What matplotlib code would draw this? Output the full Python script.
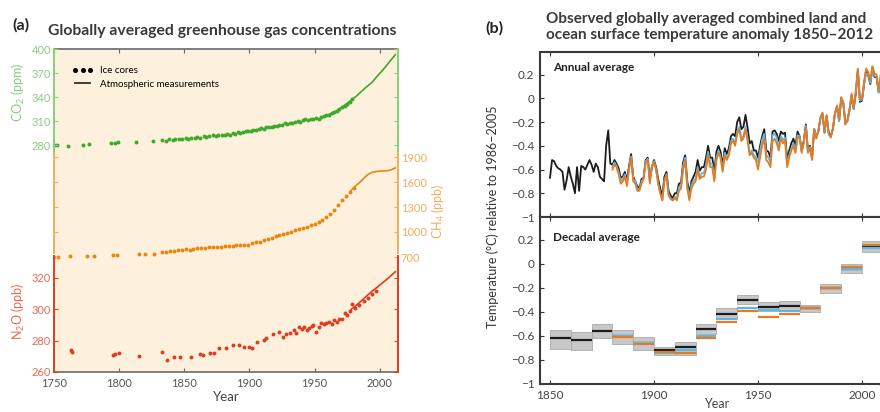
import matplotlib.pyplot as plt
import matplotlib.ticker as mticker
from matplotlib.lines import Line2D

plt.rcParams['font.family'] = ['Lato', 'DejaVu Sans']
plt.rcParams['mathtext.fontset'] = 'custom'
plt.rcParams['mathtext.rm'] = 'Lato'
plt.rcParams['mathtext.it'] = 'Lato:italic'
plt.rcParams['mathtext.bf'] = 'Lato:bold'

# ---------------- panel (a) data ----------------
co2_ice_year = [1750, 1752, 1761, 1772, 1777, 1794, 1797, 1799, 1813, 1826,
                1833, 1836, 1838, 1841, 1843, 1846, 1848, 1851, 1853, 1855,
                1858, 1860, 1862, 1865, 1867, 1869, 1872, 1874, 1876, 1879,
                1881, 1883, 1885, 1887, 1889, 1891, 1893, 1895, 1897, 1899,
                1901, 1903, 1905, 1907, 1909, 1911, 1913, 1915, 1917, 1919,
                1921, 1923, 1925, 1927, 1929, 1931, 1933, 1935, 1937, 1939,
                1941, 1943, 1945, 1947, 1949, 1951, 1953, 1955, 1957, 1959,
                1961, 1963, 1965, 1967, 1969, 1971, 1973, 1975, 1977, 1979]
co2_ice_ppm = [280, 280, 279, 280, 281, 283, 283, 284, 284, 285,
               286, 285, 287, 286, 287, 288, 287, 289, 288, 289,
               289, 290, 289, 291, 290, 291, 292, 291, 292, 293,
               293, 294, 293, 295, 294, 296, 295, 296, 297, 298,
               298, 299, 299, 300, 301, 300, 302, 302, 303, 304,
               304, 305, 305, 307, 306, 308, 307, 309, 310, 309,
               311, 312, 311, 313, 312, 314, 313, 315, 316, 317,
               318, 320, 321, 323, 325, 327, 329, 331, 334, 337]
co2_atm_year = [1958, 1962, 1966, 1970, 1974, 1978, 1982, 1986, 1990, 1994,
                1998, 2002, 2006, 2010, 2012]
co2_atm_ppm = [316, 319, 322, 326, 331, 336, 341, 347, 353, 358,
               366, 373, 381, 389, 393]

ch4_ice_year = [1750, 1753, 1762, 1775, 1781, 1795, 1798, 1815, 1820, 1827,
                1833, 1836, 1839, 1842, 1845, 1848, 1851, 1854, 1857, 1860,
                1863, 1866, 1869, 1872, 1875, 1878, 1881, 1884, 1887, 1890,
                1893, 1896, 1899, 1902, 1905, 1908, 1911, 1914, 1917, 1920,
                1923, 1926, 1929, 1932, 1935, 1938, 1941, 1944, 1947, 1950,
                1953, 1956, 1959, 1962, 1965, 1968, 1971, 1974, 1977, 1980]
ch4_ice_ppb = [700, 705, 710, 715, 712, 725, 722, 735, 738, 740,
               760, 765, 770, 775, 780, 790, 795, 790, 800, 805,
               810, 808, 815, 820, 825, 820, 830, 835, 832, 840,
               845, 850, 848, 870, 880, 875, 900, 915, 930, 950,
               960, 975, 990, 1005, 1020, 1035, 1050, 1065, 1080, 1095,
               1120, 1150, 1180, 1220, 1260, 1320, 1380, 1430, 1480, 1530]
ch4_atm_year = [1978, 1982, 1985, 1988, 1991, 1994, 1997, 2000, 2003, 2006, 2009, 2012]
ch4_atm_ppb = [1500, 1560, 1600, 1650, 1690, 1715, 1725, 1730, 1733, 1735, 1748, 1770]

n2o_ice_year = [1763, 1764, 1795, 1797, 1800, 1815, 1833, 1837, 1842, 1847,
                1855, 1862, 1864, 1870, 1873, 1877, 1882, 1887, 1892, 1896,
                1900, 1902, 1906, 1911, 1913, 1918, 1923, 1926, 1928, 1931,
                1934, 1936, 1938, 1940, 1942, 1944, 1946, 1948, 1949, 1951,
                1953, 1955, 1957, 1959, 1961, 1963, 1965, 1967, 1969, 1971,
                1973, 1975, 1977, 1979, 1981, 1984, 1988, 1991, 1994, 1997]
n2o_ice_ppb = [274, 273, 271, 271.5, 272, 270.5, 272.5, 267.5, 269.5, 269.5,
               269.5, 271.5, 271, 272, 272, 275, 275, 277, 277, 276,
               276, 275.5, 279, 280.5, 281.5, 284.5, 285.5, 282.5, 284, 285,
               287, 285, 288.5, 287.5, 289, 286.5, 288, 289.5, 290, 285.5,
               289, 291, 290.5, 291.5, 292, 290.5, 293, 292, 293.5, 294,
               297.5, 296.5, 299, 303.5, 301, 302.5, 305, 307.5, 310, 311.5]
n2o_atm_year = [1978, 1982, 1986, 1990, 1994, 1998, 2002, 2006, 2010, 2012]
n2o_atm_ppb = [300, 302.5, 305.5, 308.5, 311.5, 314, 316.8, 319.5, 322.5, 324]

# ---------------- panel (b) data ----------------
black_start = 1850
black_annual = [
    -0.67, -0.52, -0.53, -0.57, -0.59, -0.60, -0.62, -0.77, -0.69, -0.58,
    -0.66, -0.72, -0.80, -0.58, -0.78, -0.57, -0.58, -0.60, -0.56, -0.52,
    -0.56, -0.62, -0.55, -0.58, -0.66, -0.68, -0.70, -0.40, -0.27, -0.55,
    -0.56, -0.52, -0.55, -0.59, -0.67, -0.66, -0.62, -0.69, -0.57, -0.47,
    -0.66, -0.70, -0.74, -0.76, -0.68, -0.67, -0.52, -0.50, -0.68, -0.58,
    -0.52, -0.58, -0.68, -0.76, -0.82, -0.66, -0.62, -0.78, -0.82, -0.84,
    -0.80, -0.80, -0.72, -0.71, -0.54, -0.48, -0.70, -0.80, -0.70, -0.66,
    -0.62, -0.52, -0.61, -0.58, -0.58, -0.50, -0.40, -0.50, -0.50, -0.62,
    -0.45, -0.40, -0.45, -0.57, -0.42, -0.47, -0.42, -0.32, -0.30, -0.32,
    -0.20, -0.16, -0.26, -0.24, -0.14, -0.25, -0.38, -0.36, -0.44, -0.44,
    -0.50, -0.40, -0.32, -0.26, -0.44, -0.45, -0.50, -0.28, -0.27, -0.30,
    -0.36, -0.28, -0.30, -0.29, -0.52, -0.44, -0.38, -0.34, -0.40, -0.28,
    -0.32, -0.44, -0.36, -0.22, -0.44, -0.40, -0.50, -0.26, -0.32, -0.28,
    -0.17, -0.13, -0.29, -0.15, -0.29, -0.32, -0.26, -0.13, -0.07, -0.19,
    0.00, -0.04, -0.21, -0.19, -0.10, 0.02, -0.09, 0.04, 0.24, -0.03,
    -0.02, 0.12, 0.24, 0.19, 0.12, 0.26, 0.18, 0.18, 0.05, 0.17,
    0.24, 0.10, 0.15]

other_start = 1880
orange_annual = [
    -0.60, -0.56, -0.58, -0.64, -0.72, -0.70, -0.66, -0.74, -0.60, -0.50,
    -0.70, -0.72, -0.78, -0.78, -0.72, -0.68, -0.54, -0.52, -0.72, -0.58,
    -0.54, -0.60, -0.72, -0.80, -0.86, -0.70, -0.64, -0.82, -0.84, -0.86,
    -0.84, -0.86, -0.78, -0.76, -0.60, -0.52, -0.76, -0.86, -0.76, -0.72,
    -0.70, -0.60, -0.68, -0.66, -0.66, -0.60, -0.48, -0.58, -0.58, -0.70,
    -0.52, -0.46, -0.50, -0.62, -0.48, -0.52, -0.48, -0.38, -0.36, -0.40,
    -0.30, -0.26, -0.36, -0.34, -0.26, -0.36, -0.48, -0.46, -0.50, -0.52,
    -0.60, -0.50, -0.40, -0.34, -0.52, -0.54, -0.58, -0.36, -0.34, -0.38,
    -0.44, -0.34, -0.38, -0.35, -0.58, -0.50, -0.44, -0.40, -0.46, -0.34,
    -0.32, -0.46, -0.38, -0.24, -0.46, -0.42, -0.52, -0.26, -0.34, -0.28,
    -0.16, -0.12, -0.28, -0.14, -0.30, -0.33, -0.25, -0.12, -0.06, -0.18,
    0.01, -0.03, -0.22, -0.18, -0.09, 0.04, -0.08, 0.06, 0.25, -0.01,
    0.00, 0.14, 0.25, 0.22, 0.15, 0.27, 0.21, 0.20, 0.07, 0.20,
    0.27, 0.12, 0.16]
blue_annual = [
    -0.58, -0.54, -0.57, -0.62, -0.70, -0.68, -0.64, -0.72, -0.59, -0.49,
    -0.68, -0.70, -0.76, -0.77, -0.70, -0.67, -0.53, -0.51, -0.70, -0.57,
    -0.53, -0.60, -0.71, -0.80, -0.86, -0.69, -0.64, -0.81, -0.85, -0.86,
    -0.83, -0.84, -0.75, -0.74, -0.57, -0.50, -0.73, -0.84, -0.73, -0.69,
    -0.68, -0.58, -0.66, -0.63, -0.63, -0.56, -0.45, -0.55, -0.55, -0.68,
    -0.50, -0.44, -0.49, -0.60, -0.46, -0.51, -0.46, -0.36, -0.34, -0.38,
    -0.28, -0.24, -0.34, -0.32, -0.24, -0.34, -0.46, -0.44, -0.48, -0.50,
    -0.54, -0.44, -0.35, -0.30, -0.48, -0.50, -0.54, -0.31, -0.30, -0.33,
    -0.42, -0.32, -0.35, -0.33, -0.56, -0.48, -0.42, -0.38, -0.44, -0.31,
    -0.32, -0.45, -0.37, -0.23, -0.45, -0.41, -0.51, -0.26, -0.33, -0.27,
    -0.17, -0.13, -0.29, -0.15, -0.30, -0.33, -0.26, -0.13, -0.07, -0.19,
    0.00, -0.04, -0.22, -0.19, -0.10, 0.03, -0.09, 0.05, 0.22, -0.02,
    -0.01, 0.12, 0.21, 0.20, 0.13, 0.24, 0.19, 0.18, 0.05, 0.18,
    0.24, 0.10, 0.14]

decades = [1850, 1860, 1870, 1880, 1890, 1900, 1910, 1920, 1930, 1940,
           1950, 1960, 1970, 1980, 1990, 2000]
dec_black = [-0.62, -0.63, -0.56, -0.60, -0.66, -0.72, -0.69, -0.54, -0.42, -0.30,
             -0.36, -0.35, -0.37, -0.20, -0.04, 0.14]
dec_lo = [-0.71, -0.72, -0.62, -0.67, -0.72, -0.76, -0.76, -0.58, -0.46, -0.33,
          -0.39, -0.39, -0.40, -0.24, -0.08, 0.10]
dec_hi = [-0.55, -0.57, -0.50, -0.55, -0.61, -0.69, -0.65, -0.50, -0.37, -0.26,
          -0.32, -0.31, -0.34, -0.17, 0.00, 0.19]
dec_orange = [-0.61, -0.67, -0.73, -0.74, -0.62, -0.48, -0.39, -0.44, -0.42, -0.37,
              -0.20, -0.03, 0.16]
dec_blue = [-0.60, -0.66, -0.74, -0.72, -0.60, -0.46, -0.37, -0.38, -0.39, -0.37,
            -0.20, -0.04, 0.13]

temp_ticks = [-1, -0.8, -0.6, -0.4, -0.2, 0, 0.2]

GREEN, GREEN_L = '#3daa2c', '#86cf7c'
ORANGE, ORANGE_L = '#e8870f', '#f2ad5c'
RED, RED_L = '#e03c1f', '#ea6a55'
C_BLACK, C_BLUE, C_ORANGE = '#1c1c1c', '#5db6e8', '#e57c22'

W, H = 880, 412


def box(x0, y0, x1, y1):
    # pixel rectangle (top-left origin) -> figure fraction
    return [x0 / W, 1 - y1 / H, (x1 - x0) / W, (y1 - y0) / H]


fig = plt.figure(figsize=(8.8, 4.12), dpi=100)

# ---------------- panel (a) ----------------
pos_a = box(54, 49, 398, 372)
ax = fig.add_axes(pos_a)
ax.set_facecolor('#fdf0dc')
ax.set_xlim(1750, 2014)
ax.set_ylim(0, 1)
ax.set_yticks([])
ax.set_xticks([1750, 1800, 1850, 1900, 1950, 2000])
ax.tick_params(axis='x', direction='in', top=True, length=3, labelsize=8,
               labelcolor='#555555', color='#666666', pad=4)
for s in ['left', 'right']:
    ax.spines[s].set_visible(False)
for s in ['top', 'bottom']:
    ax.spines[s].set_color('#6a6a6a')
    ax.spines[s].set_linewidth(1.2)
ax.set_xlabel('Year', fontsize=9.5, color='#444444', labelpad=2)


def gas_axes(ylim, bounds, ticks, spine_color, label_color, label_side):
    g = fig.add_axes(pos_a, sharex=ax)
    g.patch.set_visible(False)
    g.set_ylim(*ylim)
    g.spines['top'].set_visible(False)
    g.spines['bottom'].set_visible(False)
    for s in ['left', 'right']:
        g.spines[s].set_color(spine_color)
        g.spines[s].set_linewidth(1.4)
        g.spines[s].set_bounds(*bounds)
    g.set_yticks(ticks)
    g.tick_params(axis='y', direction='in', left=True, right=True, length=3,
                  color=spine_color, labelcolor=label_color, labelsize=8, pad=2,
                  labelleft=(label_side == 'left'), labelright=(label_side == 'right'))
    g.tick_params(axis='x', bottom=False, labelbottom=False)
    return g


g_co2 = gas_axes((-3.75, 400), (267, 400), [280, 310, 340, 370, 400], GREEN_L, GREEN_L, 'left')
g_ch4 = gas_axes((-680, 3196), (748, 1948), [700, 1000, 1300, 1600, 1900], ORANGE_L, ORANGE_L, 'right')
g_n2o = gas_axes((260, 466), (260, 334), [260, 280, 300, 320], RED, RED_L, 'left')

g_co2.scatter(co2_ice_year, co2_ice_ppm, s=8, color=GREEN, lw=0)
g_co2.plot(co2_atm_year, co2_atm_ppm, color=GREEN, lw=1.2)
g_ch4.scatter(ch4_ice_year, ch4_ice_ppb, s=8, color=ORANGE, lw=0)
g_ch4.plot(ch4_atm_year, ch4_atm_ppb, color=ORANGE, lw=1.2)
g_n2o.scatter(n2o_ice_year, n2o_ice_ppb, s=8, color=RED, lw=0)
g_n2o.plot(n2o_atm_year, n2o_atm_ppb, color=RED, lw=1.2)

handles = [Line2D([], [], marker='o', ls='none', ms=2.6, color='black'),
           Line2D([], [], color='#333333', lw=1.3)]
g_n2o.legend(handles, ['Ice cores', 'Atmospheric measurements'], loc='upper left',
             bbox_to_anchor=(0.035, 0.965), frameon=False, fontsize=7, numpoints=3,
             handlelength=2.2, handletextpad=0.7, labelspacing=0.45, borderaxespad=0.2)

fig.text(18 / W, 1 - 92 / H, r'CO$_2$ (ppm)', rotation=90, ha='center', va='center',
         color=GREEN_L, fontsize=9)
fig.text(18 / W, 1 - 311 / H, r'N$_2$O (ppb)', rotation=90, ha='center', va='center',
         color=RED_L, fontsize=9)
fig.text(438 / W, 1 - 211 / H, r'CH$_4$ (ppb)', rotation=90, ha='center', va='center',
         color=ORANGE_L, fontsize=9)

fig.text(12 / W, 1 - 25 / H, '(a)', fontsize=11.5, fontweight='bold', color='#222222',
         ha='left', va='center')
fig.text(48 / W, 1 - 31 / H, 'Globally averaged greenhouse gas concentrations',
         fontsize=11.3, fontweight='bold', color='#3a3a3a', ha='left', va='center')

# ---------------- panel (b) ----------------
fmt = mticker.FuncFormatter(lambda v, p: ('%g' % v).replace('-', '\u2212'))
axu = fig.add_axes(box(540, 52, 893, 217))
axl = fig.add_axes(box(540, 217, 893, 384))
for a in (axu, axl):
    a.set_xlim(1845.2, 2014.9)
    a.set_ylim(-1, 0.39)
    a.set_xticks([1850, 1900, 1950, 2000])
    a.set_yticks(temp_ticks)
    a.yaxis.set_major_formatter(fmt)
    a.tick_params(direction='in', top=True, length=3, labelsize=8.5,
                  labelcolor='#444444', color='#333333', pad=4)
    for s in a.spines.values():
        s.set_color('#3a3a3a')
        s.set_linewidth(1.5)
axu.tick_params(axis='x', labelbottom=False)

yrs_black = list(range(black_start, black_start + len(black_annual)))
yrs_other = list(range(other_start, other_start + len(orange_annual)))
axu.plot(yrs_black, black_annual, color=C_BLACK, lw=1.3)
axu.plot(yrs_other, blue_annual, color=C_BLUE, lw=1.3)
axu.plot(yrs_other, orange_annual, color=C_ORANGE, lw=1.3)

dec_hgt = [h - l for h, l in zip(dec_hi, dec_lo)]
axl.bar(decades, dec_hgt, bottom=dec_lo, width=10, align='edge',
        color='#c8c8c8', edgecolor='#aaaaaa', linewidth=0.6)
dec_end = [d + 10 for d in decades]
axl.hlines(dec_black, decades, dec_end, color=C_BLACK, lw=1.6)
axl.hlines(dec_blue, decades[3:], dec_end[3:], color=C_BLUE, lw=1.6)
axl.hlines(dec_orange, decades[3:], dec_end[3:], color=C_ORANGE, lw=1.6)

axu.text(0.037, 0.905, 'Annual average', transform=axu.transAxes, fontsize=8.5,
         fontweight='bold', color='#222222', ha='left', va='center')
axl.text(0.037, 0.88, 'Decadal average', transform=axl.transAxes, fontsize=8.5,
         fontweight='bold', color='#222222', ha='left', va='center')
axl.set_xlabel('Year', fontsize=9, color='#444444', labelpad=-1.5)

fig.text(493 / W, 1 - 217 / H, 'Temperature (\u00b0C) relative to 1986\u20132005',
         rotation=90, ha='center', va='center', fontsize=9, color='#333333')
fig.text(485 / W, 1 - 28 / H, '(b)', fontsize=11.5, fontweight='bold', color='#222222',
         ha='left', va='center')
fig.text(546 / W, 1 - 27 / H,
         'Observed globally averaged combined land and\nocean surface temperature anomaly 1850\u20132012',
         fontsize=11, fontweight='bold', color='#3a3a3a', ha='left', va='center',
         linespacing=1.1)

fig.savefig('out.png', dpi=100)
